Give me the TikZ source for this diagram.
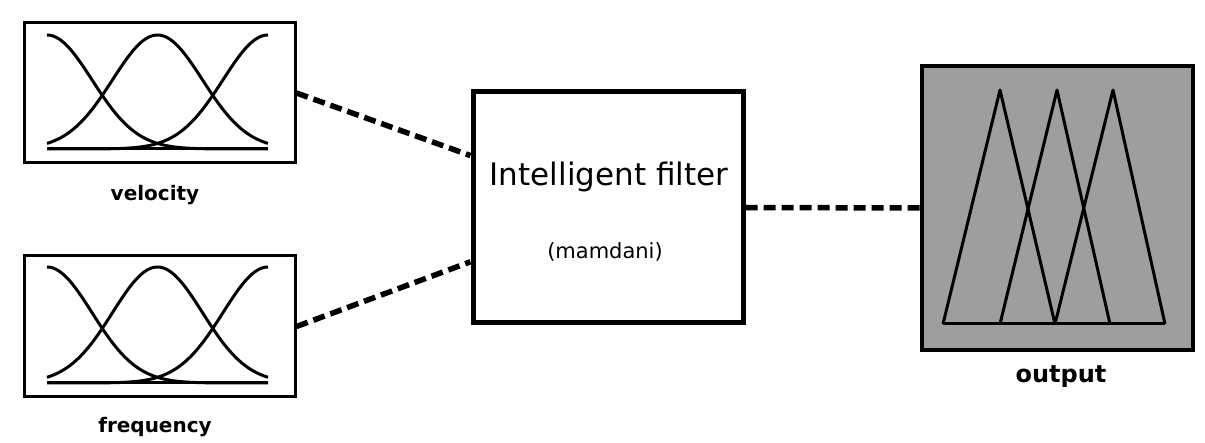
\documentclass[tikz,border=0pt]{standalone}
\usepackage{fontspec}
\setmainfont{DejaVu Sans}
\usetikzlibrary{calc}
\begin{document}
\begin{tikzpicture}[x=1pt,y=-1pt,
  mfbox/.style={draw=black,line width=3pt,fill=white,inner sep=0pt},
  lbl/.style={font=\fontsize{20}{20}\selectfont\bfseries,inner sep=0pt},
  link/.style={line width=5.5pt,dash pattern=on 12pt off 6pt},
  curve/.style={line width=3pt,line join=round}]
\useasboundingbox (0,0) rectangle (1205,443);
\fill[white] (0,0) rectangle (1205,443);
% input boxes
\node[mfbox,minimum width=271pt,minimum height=140pt] (vel) at (159.5,93) {};
\node[mfbox,minimum width=271pt,minimum height=141pt] (freq) at (159.5,326.5) {};
% filter
\node[draw=black,line width=5pt,fill=white,minimum width=270pt,minimum height=231pt,inner sep=0pt] (filt) at (608,207.5) {};
% output
\node[draw=black,line width=4pt,fill=black!38,minimum width=271pt,minimum height=284pt,inner sep=0pt] (out) at (1057.5,208) {};
% labels
\node[lbl] (vlab) at (155,195) {velocity};
\node[lbl] (flab) at (155,427) {frequency};
\node[lbl,font=\fontsize{24}{24}\selectfont\bfseries] (olab) at (1061,377) {output};
\node[font=\fontsize{31}{31}\selectfont,inner sep=0pt] (ftitle) at (609,177) {Intelligent filter};
\node[font=\fontsize{21}{21}\selectfont,inner sep=0pt] (fsub) at (605,252) {(mamdani)};
% gaussian MFs
\foreach \c in {47,157.5,268}{
  \draw[curve] plot[domain=47:268,samples=80,smooth] (\x,{149-114*exp(-0.5*((\x-\c)/45)^2)});
  \draw[curve] plot[domain=47:268,samples=80,smooth] (\x,{383-116*exp(-0.5*((\x-\c)/45)^2)});
}
\draw[curve] (47,149) -- (268,149);
\draw[curve] (47,383) -- (268,383);
% triangles in output box
\draw[curve] (943,324) -- (1000,90) -- (1055,324);
\draw[curve] (1000,324) -- (1057,90) -- (1110,324);
\draw[curve] (1055,324) -- (1113,90) -- (1165,324);
\draw[curve] (943,324) -- (1165,324);
% connectors
\coordinate (in1) at ($(filt.north west)!0.28!(filt.south west)$);
\coordinate (in2) at ($(filt.north west)!0.73!(filt.south west)$);
\draw[link] (vel.east) -- (in1);
\draw[link] (freq.east) -- (in2);
\draw[link] (filt.east) -- (out.west);
\end{tikzpicture}
\end{document}
